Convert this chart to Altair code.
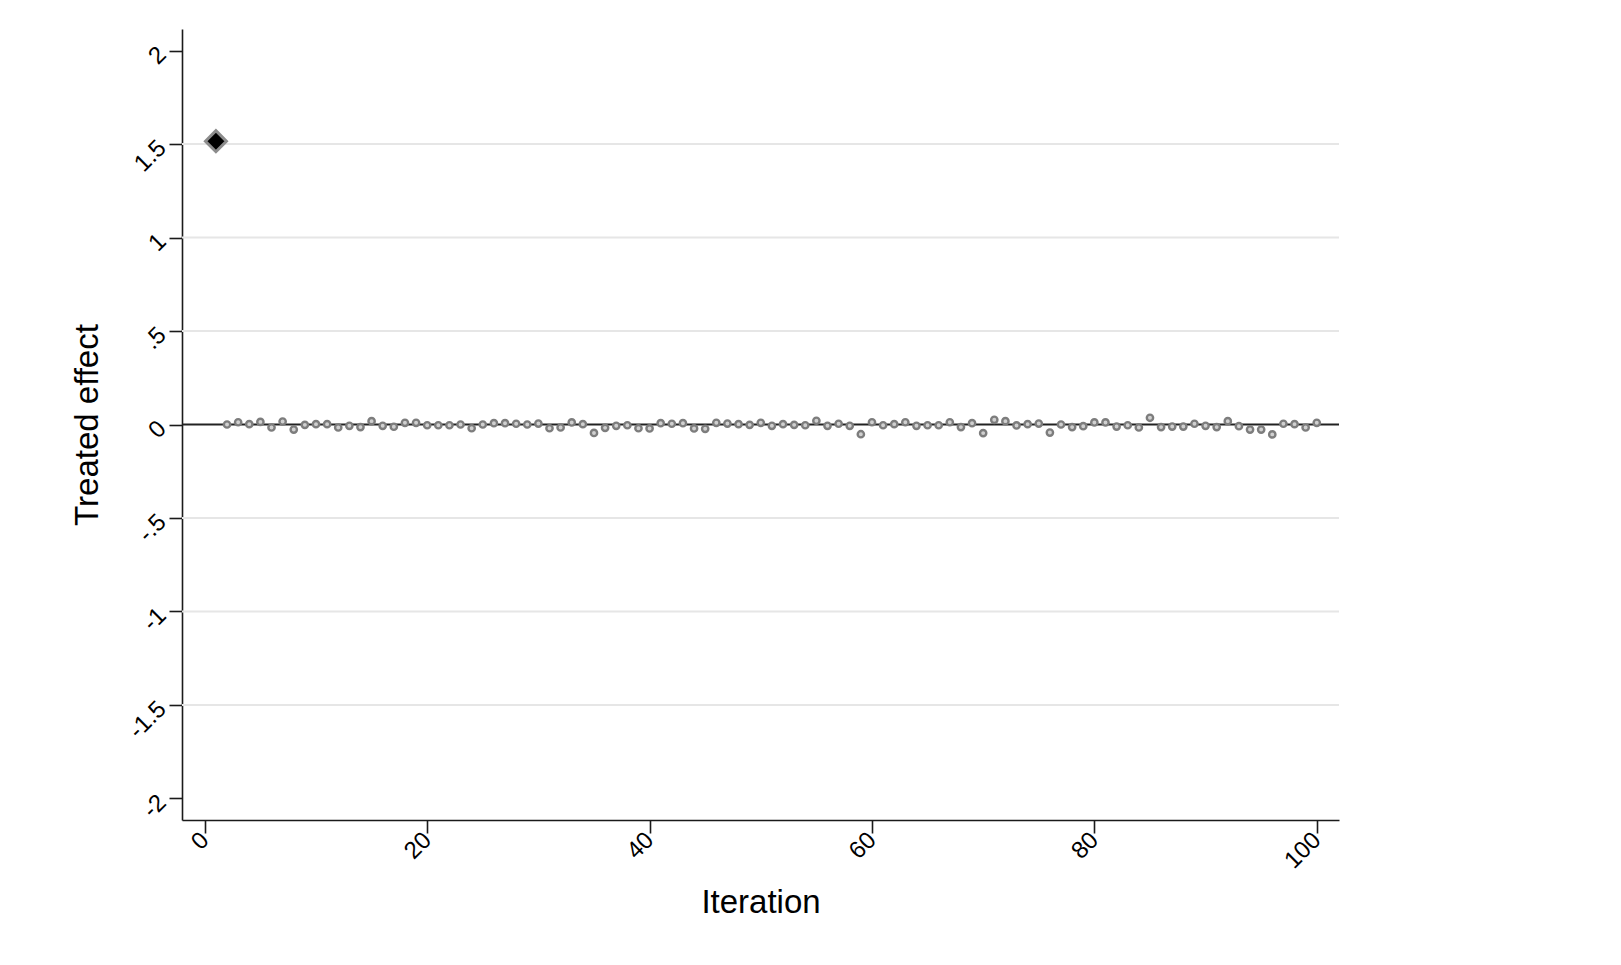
import altair as alt
import pandas as pd

# ---- data ----
FIRST_ITERATION = [1]
FIRST_EFFECT = [1.515]

ITERATIONS = list(range(2, 101))
EFFECTS = [
    0.000, 0.012, 0.002, 0.014, -0.016, 0.016, -0.027, -0.002, 0.002,      # 2-10
    0.002, -0.016, -0.007, -0.014, 0.018, -0.007, -0.012, 0.009, 0.009, -0.004,  # 11-20
    -0.004, -0.004, 0.000, -0.020, 0.000, 0.007, 0.007, 0.004, 0.000, 0.005,    # 21-30
    -0.020, -0.016, 0.011, 0.002, -0.045, -0.018, -0.007, -0.004, -0.020, -0.021,  # 31-40
    0.007, 0.004, 0.007, -0.021, -0.023, 0.009, 0.005, 0.002, -0.002, 0.009,    # 41-50
    -0.007, 0.002, -0.002, -0.004, 0.020, -0.007, 0.004, -0.007, -0.052, 0.012,  # 51-60
    -0.004, 0.002, 0.012, -0.007, -0.004, -0.004, 0.012, -0.014, 0.007, -0.046,  # 61-70
    0.025, 0.018, -0.005, 0.002, 0.005, -0.043, 0.000, -0.014, -0.009, 0.011,   # 71-80
    0.011, -0.011, -0.004, -0.016, 0.036, -0.014, -0.011, -0.011, 0.004, -0.007,  # 81-90
    -0.014, 0.018, -0.009, -0.027, -0.027, -0.053, 0.004, 0.002, -0.016, 0.009,  # 91-100
]

X_TICKS = [0, 20, 40, 60, 80, 100]
Y_TICKS = [-2, -1.5, -1, -0.5, 0, 0.5, 1, 1.5, 2]
Y_TICK_LABELS = ["-2", "-1.5", "-1", "-.5", "0", ".5", "1", "1.5", "2"]
GRID_VALUES = [-1.5, -1, -0.5, 0.5, 1, 1.5]
ZERO_LINE = [0]

X_TITLE = "Iteration"
Y_TITLE = "Treated effect"

# ---- tables ----
pts = pd.DataFrame({"iteration": ITERATIONS, "effect": EFFECTS})
first = pd.DataFrame({"iteration": FIRST_ITERATION, "effect": FIRST_EFFECT})
grid = pd.DataFrame({"effect": GRID_VALUES})
zero = pd.DataFrame({"effect": ZERO_LINE})

W, H = 1157, 791
FONT = "Liberation Sans"

label_expr = ""
for v, lab in zip(Y_TICKS, Y_TICK_LABELS):
    label_expr += f"datum.value == {v} ? '{lab}' : "
label_expr += "''"

y_scale = alt.Scale(domain=[-2.115, 2.115], nice=False, zero=False)
x_scale = alt.Scale(domain=[-2.05, 102], nice=False, zero=False)

y_axis = alt.Axis(
    values=Y_TICKS, labelExpr=label_expr, grid=False,
    labelAngle=315, labelAlign="right", labelBaseline="middle",
    labelPadding=7, tickSize=13, labelFlush=False, labelOverlap=False,
    title=Y_TITLE, titleAngle=270, titleX=-85, titleY=H / 2,
    titleBaseline="alphabetic", titleAlign="center",
)
x_axis = alt.Axis(
    values=X_TICKS, format="d", grid=False,
    labelAngle=315, labelAlign="right", labelBaseline="middle",
    labelPadding=3, tickSize=13, labelFlush=False, labelOverlap=False,
    title=X_TITLE, titleX=W / 2, titleY=92,
    titleBaseline="alphabetic", titleAlign="center",
)

Y = alt.Y("effect:Q", scale=y_scale, axis=y_axis)
X = alt.X("iteration:Q", scale=x_scale, axis=x_axis)

grid_layer = alt.Chart(grid).mark_rule(color="#e6e6e6", strokeWidth=2).encode(y=Y)
zero_layer = alt.Chart(zero).mark_rule(color="#222222", strokeWidth=2).encode(y=Y)
pts_layer = alt.Chart(pts).mark_point(
    shape="circle", filled=True, fill="#d0d0d0", stroke="#7d7d7d", size=40,
    strokeWidth=2.4, opacity=1, fillOpacity=1
).encode(x=X, y=Y)
first_layer = alt.Chart(first).mark_point(
    shape="diamond", filled=True, fill="#000000", stroke="#8c8c8c",
    strokeWidth=3, size=440, opacity=1, fillOpacity=1, strokeOpacity=1
).encode(x=X, y=Y)

chart = (
    alt.layer(grid_layer, zero_layer, pts_layer, first_layer)
    .properties(
        width=W, height=H,
        autosize=alt.AutoSizeParams(type="none"),
        padding={"left": 174, "top": 21, "right": 250, "bottom": 120},
        background="white",
    )
    .configure_view(strokeWidth=0)
    .configure_axis(
        labelFont=FONT, labelFontSize=24, labelColor="#000000",
        titleFont=FONT, titleFontSize=33, titleFontWeight="normal", titleColor="#000000",
        domainColor="#1a1a1a", domainWidth=1.6, tickColor="#1a1a1a", tickWidth=1.6,
    )
)

chart.save("out.html", embed_options={"renderer": "svg", "actions": False})
